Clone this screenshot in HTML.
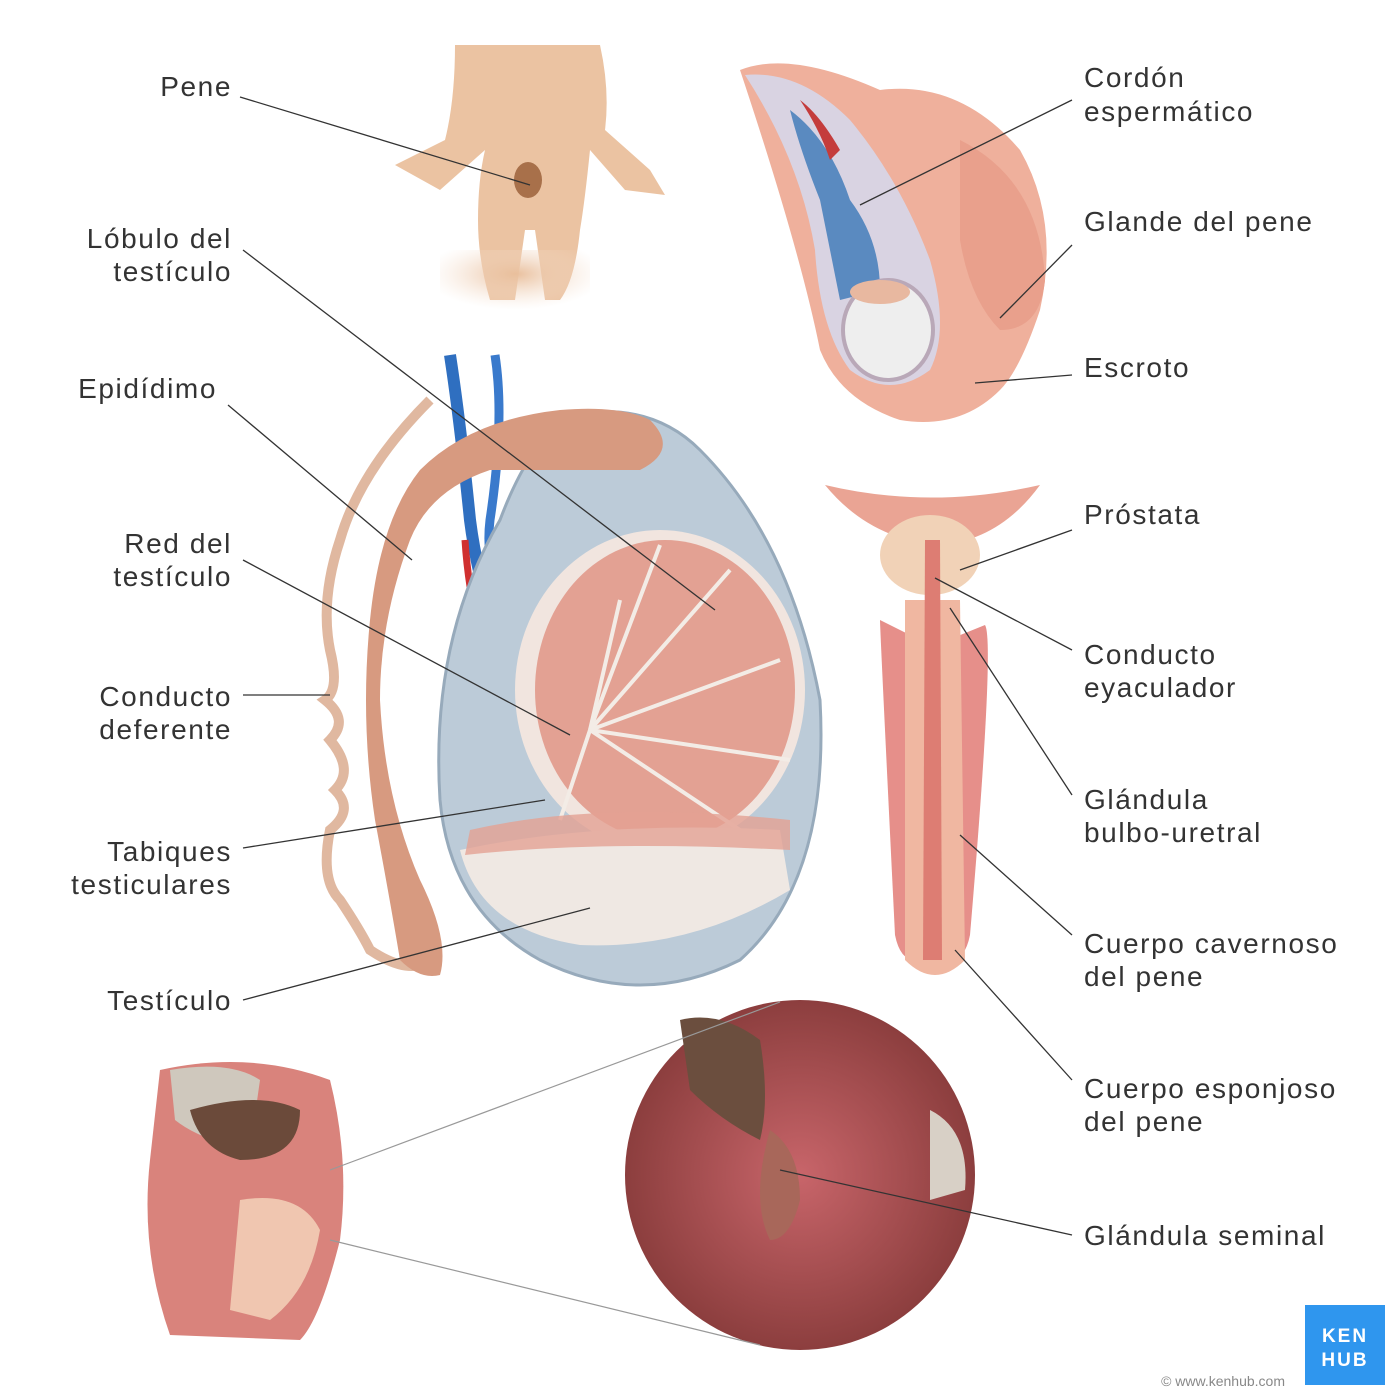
<!DOCTYPE html>
<html><head><meta charset="utf-8"><style>
html,body{margin:0;padding:0;background:#fff;}
svg{display:block;}
text{font-family:"Liberation Sans",sans-serif;font-size:28px;letter-spacing:1.6px;fill:#333;}
</style></head><body>
<svg width="1400" height="1400" viewBox="0 0 1400 1400" xmlns="http://www.w3.org/2000/svg">
<defs>
<radialGradient id="body" cx="50%" cy="40%" r="60%"><stop offset="0" stop-color="#e9bf9c"/><stop offset="1" stop-color="#f6e3d4" stop-opacity="0"/></radialGradient>
<radialGradient id="circ" cx="50%" cy="50%" r="50%"><stop offset="0" stop-color="#c8656a"/><stop offset="1" stop-color="#8c3e3e"/></radialGradient>
</defs>
<g>
<path d="M455,45 L600,45 Q610,90 605,130 L650,170 L665,195 L625,190 L590,150 Q585,200 580,230 Q575,280 560,300 L545,300 L535,230 L525,230 L515,300 L490,300 Q478,260 478,220 Q478,180 485,150 L440,190 L395,165 L445,140 Q455,100 455,45 Z" fill="#ebc3a2"/>
<ellipse cx="528" cy="180" rx="14" ry="18" fill="#a8704a"/>
<rect x="440" y="250" width="150" height="60" fill="url(#body)"/>
</g>
<g>
<path d="M740,70 Q790,50 880,90 Q960,80 1020,150 Q1060,220 1040,310 Q1020,370 1000,390 Q960,430 900,420 Q840,400 820,350 Q800,250 740,70 Z" fill="#efb09c"/>
<path d="M745,75 Q800,70 850,120 Q900,180 930,260 Q950,330 930,370 Q890,400 850,370 Q820,330 815,250 Q800,160 745,75 Z" fill="#d9d3e2"/>
<path d="M790,110 Q830,140 850,200 Q880,240 880,290 L840,300 Q830,250 820,200 Q800,150 790,110 Z" fill="#3a78b8" opacity="0.8"/>
<path d="M800,100 Q820,130 830,160 L840,150 Q820,115 800,100 Z" fill="#c43c3c"/>
<ellipse cx="888" cy="330" rx="45" ry="50" fill="#eeeeee" stroke="#b9a8b8" stroke-width="4"/>
<ellipse cx="880" cy="292" rx="30" ry="12" fill="#e8b8a0"/>
<path d="M960,140 Q1040,180 1045,280 Q1040,330 1000,330 Q970,300 960,240 Z" fill="#e9a08c"/>
</g>
<path d="M430,400 Q360,470 340,540 Q320,600 330,650 Q340,690 325,700 Q350,720 330,740 Q355,770 335,790 Q355,810 330,830 Q320,880 340,900 Q360,930 370,950 Q400,970 420,965" fill="none" stroke="#e0b8a0" stroke-width="10"/>
<path d="M450,355 Q460,420 470,520 Q480,600 520,700" fill="none" stroke="#2f6fc0" stroke-width="12"/>
<path d="M495,355 Q505,420 490,520 Q480,600 560,720" fill="none" stroke="#3a7acc" stroke-width="9"/>
<path d="M465,540 Q470,620 500,700" fill="none" stroke="#d03030" stroke-width="7"/>
<path d="M570,415 Q650,400 700,450 Q790,540 820,700 Q830,880 740,960 Q640,1010 540,960 Q450,910 440,800 Q430,640 500,520 Q530,440 570,415 Z" fill="#bccbd8" stroke="#97aabb" stroke-width="3"/>
<ellipse cx="660" cy="690" rx="145" ry="160" fill="#f1e5df"/>
<ellipse cx="665" cy="690" rx="130" ry="150" fill="#e3a193"/>
<g stroke="#f3ece6" stroke-width="4" fill="none">
<path d="M590,730 L660,545"/><path d="M590,730 L730,570"/><path d="M590,730 L780,660"/><path d="M590,730 L790,760"/><path d="M590,730 L740,830"/><path d="M590,730 L620,600"/><path d="M590,730 L560,820"/>
</g>
<path d="M460,850 Q600,820 780,830 L790,890 Q690,950 580,945 Q480,930 460,850 Z" fill="#efe8e3"/>
<path d="M470,830 Q600,800 790,820 L790,850 Q600,840 465,855 Z" fill="#e3a193" opacity="0.8"/>
<path d="M650,420 Q680,450 640,470 Q560,470 490,470 Q430,490 410,540 Q380,620 380,700 Q385,800 420,880 Q450,940 440,975 Q420,980 400,960 Q390,900 375,820 Q360,720 370,620 Q380,520 420,470 Q470,420 560,410 Q620,405 650,420 Z" fill="#d79a80"/>
<g>
<path d="M825,485 Q930,510 1040,485 Q1000,540 940,545 Q870,540 825,485 Z" fill="#eaa494"/>
<ellipse cx="930" cy="555" rx="50" ry="40" fill="#f1d2b7"/>
<path d="M880,620 Q880,630 895,935 Q900,960 915,960 L920,640 Z" fill="#e68f8a"/>
<path d="M985,625 Q995,640 970,935 Q965,960 950,960 L948,640 Z" fill="#e68f8a"/>
<path d="M905,600 L960,600 L965,960 Q935,990 905,960 Z" fill="#f0b7a1"/>
<path d="M925,540 L940,540 L942,960 L923,960 Z" fill="#dd7d73"/>
</g>
<g>
<path d="M160,1070 Q250,1050 330,1080 Q350,1160 340,1240 Q320,1320 300,1340 L170,1335 Q140,1250 150,1160 Z" fill="#d9837c"/>
<path d="M170,1070 Q230,1060 260,1080 L250,1150 Q200,1140 175,1120 Z" fill="#cfc8bd"/>
<path d="M190,1110 Q260,1090 300,1110 Q300,1160 240,1160 Q200,1150 190,1110 Z" fill="#6b4a3a"/>
<path d="M240,1200 Q300,1190 320,1230 Q310,1290 270,1320 L230,1310 Z" fill="#f0c6b0"/>
</g>
<circle cx="800" cy="1175" r="175" fill="url(#circ)"/>
<path d="M680,1020 Q720,1010 760,1040 Q770,1100 760,1140 Q720,1120 690,1090 Z" fill="#6b4e3e"/>
<path d="M770,1130 Q800,1150 800,1200 Q790,1240 770,1240 Q750,1200 770,1130 Z" fill="#a8675a"/>
<path d="M930,1110 Q970,1130 965,1190 L930,1200 Z" fill="#d8d0c6"/>
<g stroke="#333" stroke-width="1.3" fill="none">
<line x1="240" y1="97" x2="530" y2="185"/>
<line x1="243" y1="250" x2="715" y2="610"/>
<line x1="228" y1="405" x2="412" y2="560"/>
<line x1="243" y1="560" x2="570" y2="735"/>
<line x1="243" y1="695" x2="330" y2="695"/>
<line x1="243" y1="848" x2="545" y2="800"/>
<line x1="243" y1="1000" x2="590" y2="908"/>
<line x1="1072" y1="100" x2="860" y2="205"/>
<line x1="1072" y1="245" x2="1000" y2="318"/>
<line x1="1072" y1="375" x2="975" y2="383"/>
<line x1="1072" y1="530" x2="960" y2="570"/>
<line x1="1072" y1="650" x2="935" y2="578"/>
<line x1="1072" y1="795" x2="950" y2="608"/>
<line x1="1072" y1="935" x2="960" y2="835"/>
<line x1="1072" y1="1080" x2="955" y2="950"/>
<line x1="1072" y1="1235" x2="780" y2="1170"/>
</g>
<g stroke="#999" stroke-width="1.2">
<line x1="330" y1="1170" x2="780" y2="1002"/>
<line x1="330" y1="1240" x2="760" y2="1345"/>
</g>
<g text-anchor="end">
<text x="232" y="96">Pene</text>
<text x="232" y="248">Lóbulo del</text><text x="232" y="281">testículo</text>
<text x="217" y="398">Epidídimo</text>
<text x="232" y="553">Red del</text><text x="232" y="586">testículo</text>
<text x="232" y="706">Conducto</text><text x="232" y="739">deferente</text>
<text x="232" y="861">Tabiques</text><text x="232" y="894">testiculares</text>
<text x="232" y="1010">Testículo</text>
</g>
<g>
<text x="1084" y="87">Cordón</text><text x="1084" y="121">espermático</text>
<text x="1084" y="231">Glande del pene</text>
<text x="1084" y="377">Escroto</text>
<text x="1084" y="524">Próstata</text>
<text x="1084" y="664">Conducto</text><text x="1084" y="697">eyaculador</text>
<text x="1084" y="809">Glándula</text><text x="1084" y="842">bulbo-uretral</text>
<text x="1084" y="953">Cuerpo cavernoso</text><text x="1084" y="986">del pene</text>
<text x="1084" y="1098">Cuerpo esponjoso</text><text x="1084" y="1131">del pene</text>
<text x="1084" y="1245">Glándula seminal</text>
</g>
<rect x="1305" y="1305" width="80" height="80" fill="#2f96ee"/>
<text x="1345" y="1342" text-anchor="middle" style="font-size:19px;fill:#fff;font-weight:bold;letter-spacing:2px">KEN</text>
<text x="1345" y="1366" text-anchor="middle" style="font-size:19px;fill:#fff;font-weight:bold;letter-spacing:2px">HUB</text>
<text x="1285" y="1386" text-anchor="end" style="font-size:14px;letter-spacing:0;fill:#888">© www.kenhub.com</text>
</svg>
</body></html>
